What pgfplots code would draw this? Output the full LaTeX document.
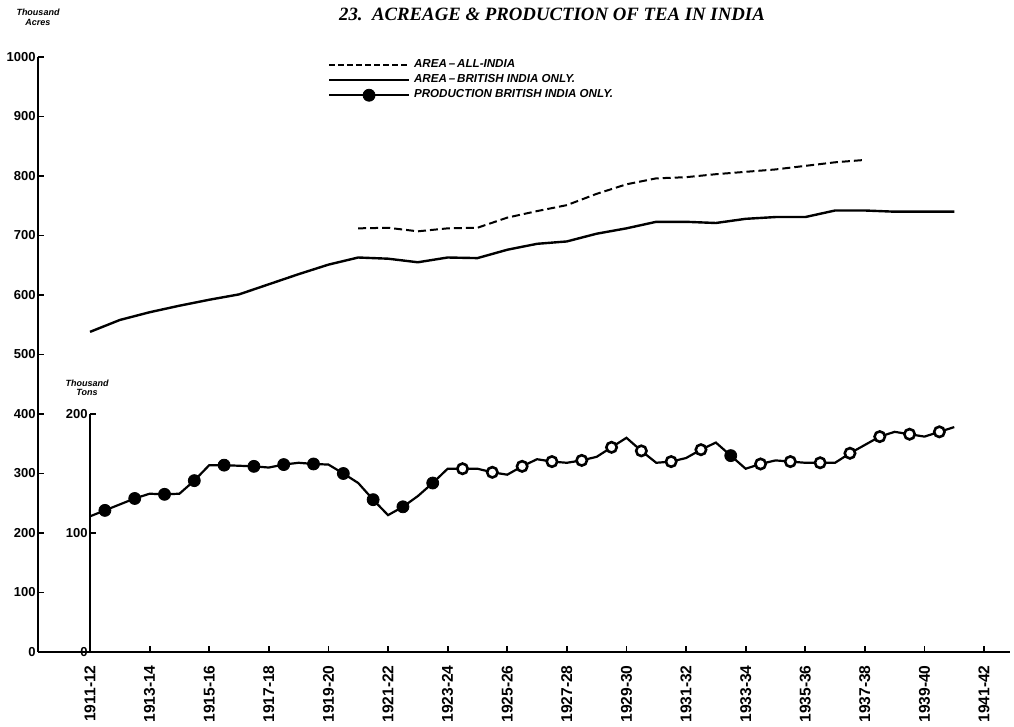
\documentclass[border=0pt]{standalone}
\usepackage{pgfplots}
\pgfplotsset{compat=1.18}
\usepackage{pgfplotstable}
\usepackage{fontspec}
\setmainfont{Liberation Sans}
\newfontfamily\serifbf{Liberation Serif}

\pgfplotsset{
  legdash/.style={legend image code/.code={\draw[black, line width=0.9pt, dash pattern=on 3pt off 1.5pt] (0pt,0pt) -- (40pt,0pt);}},
  legsolid/.style={legend image code/.code={\draw[black, line width=1pt] (0pt,0pt) -- (40pt,0pt);}},
  legdot/.style={legend image code/.code={\draw[black, line width=1pt] (0pt,0pt) -- (40pt,0pt); \fill[black] (20pt,0pt) circle (3pt);}},
}

\pgfplotstableread{
year area
1911 538
1912 558
1913 571
1914 582
1915 592
1916 601
1917 618
1918 635
1919 651
1920 663
1921 661
1922 655
1923 663
1924 662
1925 676
1926 686
1927 690
1928 703
1929 712
1930 723
1931 723
1932 721
1933 728
1934 731
1935 731
1936 742
1937 742
1938 740
1939 740
1940 740
}\britarea

\pgfplotstableread{
year area
1920 712
1921 713
1922 707
1923 712
1924 713
1925 730
1926 741
1927 751
1928 770
1929 786
1930 796
1931 798
1932 803
1933 807
1934 811
1935 817
1936 823
1937 827
}\allarea

\pgfplotstableread{
year prod
1911.0 114
1911.5 119
1912.0 124
1912.5 129
1913.0 133
1913.5 132.5
1914.0 133
1914.5 144
1915.0 157
1915.5 157
1916.0 156.5
1916.5 156
1917.0 155
1917.5 157.5
1918.0 159
1918.5 158
1919.0 157.5
1919.5 150
1920.0 142
1920.5 128
1921.0 115
1921.5 122
1922.0 131
1922.5 142
1923.0 154
1923.5 154
1924.0 154
1924.5 151
1925.0 149
1925.5 156
1926.0 162
1926.5 160
1927.0 159
1927.5 161
1928.0 164
1928.5 172
1929.0 180
1929.5 169
1930.0 159
1930.5 160
1931.0 163
1931.5 170
1932.0 176
1932.5 165
1933.0 154
1933.5 158
1934.0 161
1934.5 160
1935.0 159
1935.5 159
1936.0 159
1936.5 167
1937.0 174
1937.5 181
1938.0 185
1938.5 183
1939.0 181
1939.5 185
1940.0 189
}\prodline

\pgfplotstableread{
year prod
1911.5 119
1912.5 129
1913.5 132.5
1914.5 144
1915.5 157
1916.5 156
1917.5 157.5
1918.5 158
1919.5 150
1920.5 128
1921.5 122
1922.5 142
1932.5 165
}\prodfilled

\pgfplotstableread{
year prod
1923.5 154
1924.5 151
1925.5 156
1926.5 160
1927.5 161
1928.5 172
1929.5 169
1930.5 160
1931.5 170
1933.5 158
1934.5 160
1935.5 159
1936.5 167
1937.5 181
1938.5 183
1939.5 185
}\prodring

\begin{document}
\begin{tikzpicture}[x=1pt,y=1pt]
\useasboundingbox (0,0) rectangle (507,363.5);
\pgfplotsset{
  base/.style={
    at={(19pt,37.5pt)}, anchor=south west, scale only axis,
    width=486pt, height=297.5pt,
    xmin=1909.255, xmax=1941.87,
    clip=false,
  }
}
\begin{axis}[base,
  ymin=0, ymax=1000,
  axis x line=bottom, axis y line=left,
  axis line style={-, line width=1.2pt},
  xtick={1911,1913,...,1941},
  xticklabels={1911-12,1913-14,1915-16,1917-18,1919-20,1921-22,1923-24,1925-26,1927-28,1929-30,1931-32,1933-34,1935-36,1937-38,1939-40,1941-42},
  x tick label style={rotate=90, anchor=east, font=\fontsize{7.8}{8}\selectfont\bfseries, inner xsep=6.5pt, inner ysep=1pt},
  ytick={0,100,...,1000},
  y tick label style={font=\fontsize{6.5}{7}\selectfont\bfseries, inner sep=1pt},
  /pgf/number format/assume math mode=true,
  /pgf/number format/1000 sep={},
  tick align=inside, major tick length=3pt,
  tick style={black, line width=0.9pt},
]
\addplot[black, line width=1.2pt] table[x=year, y=area] {\britarea};
\addplot[black, line width=1pt, dash pattern=on 4pt off 2pt] table[x=year, y=area] {\allarea};
\end{axis}

\begin{axis}[base,
  ymin=0, ymax=500,
  axis lines=none,
  legend style={draw=none, fill=none, at={(0.298,1.003)}, anchor=north west,
    font=\fontsize{5.8}{6.2}\selectfont\bfseries\itshape, inner sep=0pt, row sep=-2pt,
    cells={anchor=west}},
  legend cell align=left,
]
\addlegendimage{legdash}
\addlegendentry{AREA\,--\,ALL-INDIA}
\addlegendimage{legsolid}
\addlegendentry{AREA\,--\,BRITISH INDIA ONLY.}
\addlegendimage{legdot}
\addlegendentry{PRODUCTION BRITISH INDIA ONLY.}

\addplot[black, line width=1.1pt, forget plot] table[x=year, y=prod] {\prodline};
\addplot[only marks, mark=*, mark size=3pt, black, forget plot] table[x=year, y=prod] {\prodfilled};
\addplot[only marks, mark=*, mark size=2.6pt, mark options={fill=white, draw=black, line width=1.3pt}, forget plot] table[x=year, y=prod] {\prodring};

\draw[line width=1.2pt] (axis cs:1911,0) -- (axis cs:1911,200);
\draw[line width=0.9pt] (axis cs:1911,0) -- ++(3pt,0pt);
\draw[line width=0.9pt] (axis cs:1911,100) -- ++(3pt,0pt);
\draw[line width=0.9pt] (axis cs:1911,200) -- ++(3pt,0pt);
\node[anchor=east, inner sep=1pt, font=\fontsize{6.5}{7}\selectfont\bfseries] at (axis cs:1911,0) {0};
\node[anchor=east, inner sep=1pt, font=\fontsize{6.5}{7}\selectfont\bfseries] at (axis cs:1911,100) {100};
\node[anchor=east, inner sep=1pt, font=\fontsize{6.5}{7}\selectfont\bfseries] at (axis cs:1911,200) {200};
\node[font=\fontsize{4.5}{4.8}\selectfont\bfseries\itshape, align=center] at (axis cs:1910.9,222) {Thousand\\Tons};
\end{axis}

\node[font=\serifbf\fontsize{9.4}{10}\selectfont\bfseries\itshape] at (276,356.5) {23.\ \ ACREAGE \& PRODUCTION OF TEA IN INDIA};
\node[font=\fontsize{4.5}{4.8}\selectfont\bfseries\itshape, align=center] at (19,355) {Thousand\\Acres};
\end{tikzpicture}
\end{document}
